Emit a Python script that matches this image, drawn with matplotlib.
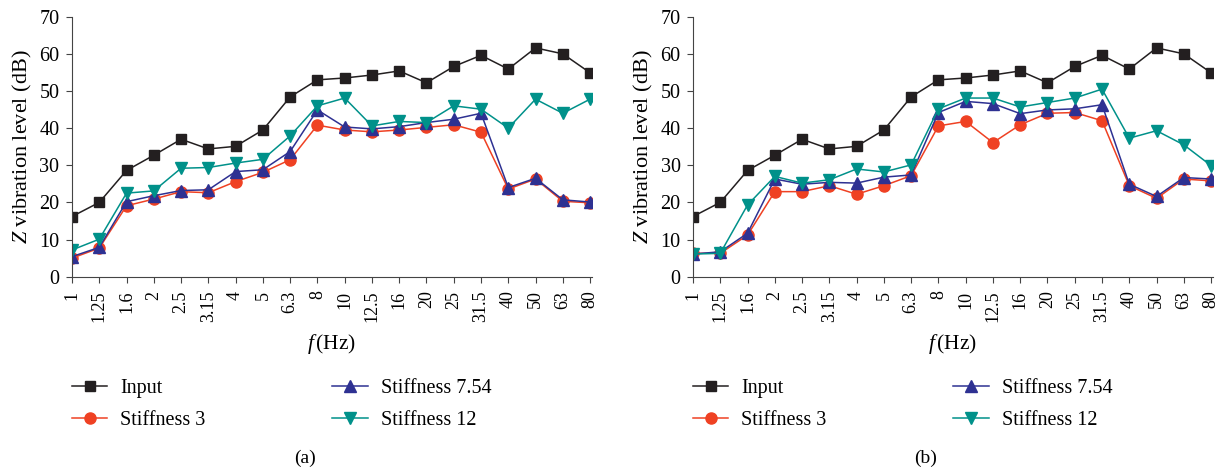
import matplotlib.pyplot as plt
import numpy as np

plt.rcParams['font.family'] = ['Liberation Serif', 'DejaVu Serif']
plt.rcParams['mathtext.fontset'] = 'custom'
plt.rcParams['mathtext.rm'] = 'Liberation Serif'
plt.rcParams['mathtext.it'] = 'Liberation Serif:italic'

freqs = ['1', '1.25', '1.6', '2', '2.5', '3.15', '4', '5', '6.3', '8', '10',
         '12.5', '16', '20', '25', '31.5', '40', '50', '63', '80']

# (a)
input_a = [16.2, 20.0, 28.6, 32.7, 37.0, 34.4, 35.1, 39.5, 48.4, 53.0, 53.5,
           54.3, 55.4, 52.2, 56.6, 59.6, 55.9, 61.6, 60.0, 54.9]
stiff3_a = [5.0, 7.7, 19.1, 20.9, 22.9, 22.6, 25.6, 28.1, 31.5, 40.8, 39.5,
            39.0, 39.5, 40.2, 40.9, 38.9, 23.6, 26.3, 20.3, 19.9]
stiff754_a = [5.4, 7.9, 20.2, 21.8, 23.2, 23.4, 28.3, 28.8, 33.7, 44.9, 40.3,
              39.8, 40.4, 41.5, 42.4, 44.0, 24.0, 26.5, 20.7, 20.1]
stiff12_a = [7.2, 10.1, 22.5, 23.1, 29.2, 29.4, 30.6, 31.6, 37.9, 46.0, 48.1,
             40.6, 41.8, 41.5, 46.0, 45.1, 40.0, 47.8, 44.0, 47.8]

# (b)
input_b = input_a
stiff3_b = [6.3, 6.3, 11.2, 22.9, 22.9, 24.5, 22.2, 24.5, 27.2, 40.6, 41.8,
            36.1, 40.9, 44.0, 44.2, 42.0, 24.5, 21.1, 26.3, 25.8]
stiff754_b = [6.1, 6.7, 11.7, 26.3, 24.9, 25.4, 25.2, 26.8, 27.4, 44.2, 47.2,
              46.6, 43.9, 44.9, 45.2, 46.3, 24.9, 21.6, 26.7, 26.3]
stiff12_b = [6.1, 6.3, 19.3, 27.0, 25.2, 26.1, 29.0, 28.2, 30.1, 45.2, 48.1,
             48.1, 45.7, 46.9, 48.1, 50.5, 37.3, 39.3, 35.5, 29.9]

labels = ['Input', 'Stiffness 3', 'Stiffness 7.54', 'Stiffness 12']
colors = ['#231f20', '#ef4123', '#2e3192', '#00918a']
markers = ['s', 'o', '^', 'v']
msizes = [7.5, 8, 8.5, 8.5]

fig = plt.figure(figsize=(12.24, 4.71), dpi=100)
W, H = 1224.0, 471.0
axa = fig.add_axes([72 / W, 1 - 276.7 / H, 520 / W, 260 / H])
axb = fig.add_axes([693 / W, 1 - 276.7 / H, 520 / W, 260 / H])

x = np.arange(len(freqs))
for ax, data, cap, x0 in [(axa, [input_a, stiff3_a, stiff754_a, stiff12_a], '(a)', 72),
                          (axb, [input_b, stiff3_b, stiff754_b, stiff12_b], '(b)', 693)]:
    for ys, lab, c, m, ms in zip(data, labels, colors, markers, msizes):
        ax.plot(x, ys, color=c, marker=m, markersize=ms, linewidth=1.1, label=lab)
    ax.set_xlim(0, 19.07)
    ax.set_ylim(0, 70)
    ax.set_yticks(range(0, 71, 10))
    ax.set_xticks(x)
    ax.set_xticklabels(freqs, rotation=90, va='top', ha='center')
    ax.spines['top'].set_visible(False)
    ax.spines['right'].set_visible(False)
    ax.spines['left'].set_color('#444444')
    ax.spines['bottom'].set_color('#444444')
    ax.tick_params(direction='out', length=4, color='#444444')
    ax.tick_params(axis='x', labelsize=13, pad=6)
    ax.tick_params(axis='y', labelsize=14.5, pad=5)
    ax.set_xlabel(r'$f\,$(Hz)', fontsize=15.5, labelpad=7)
    ax.set_ylabel(r'$Z$ vibration level (dB)', fontsize=16, labelpad=4)
    ax.legend(loc='upper left', bbox_to_anchor=(x0 / W, 1 - 379 / H),
              bbox_transform=fig.transFigure, ncol=2, frameon=False,
              fontsize=14.5, handlelength=1.75, handletextpad=0.65,
              columnspacing=6.3, labelspacing=0.62, borderpad=0,
              borderaxespad=0)
    fig.text((x0 + 233) / W, 1 - 458 / H, cap, fontsize=14, ha='center', va='center')

fig.savefig('out.png', dpi=100)
